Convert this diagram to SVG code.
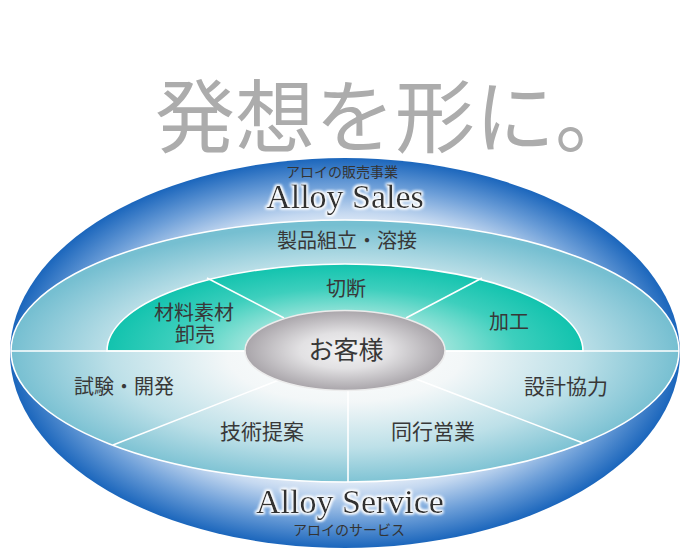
<svg xmlns="http://www.w3.org/2000/svg" width="690" height="550" viewBox="0 0 690 550">
<defs>
  <radialGradient id="gBlue" cx="0.5" cy="0.5" r="0.5">
    <stop offset="0" stop-color="#ffffff"/>
    <stop offset="0.62" stop-color="#f2f6fb"/>
    <stop offset="0.72" stop-color="#c4d8f0"/>
    <stop offset="0.86" stop-color="#6c9ed8"/>
    <stop offset="1" stop-color="#1b66bc"/>
  </radialGradient>
  <radialGradient id="gRing" cx="0.5" cy="0.52" r="0.5">
    <stop offset="0" stop-color="#ffffff"/>
    <stop offset="0.35" stop-color="#f3f7f8"/>
    <stop offset="0.7" stop-color="#bde0e8"/>
    <stop offset="1" stop-color="#76bfd1"/>
  </radialGradient>
  <radialGradient id="gTeal" gradientUnits="userSpaceOnUse" cx="345" cy="351" r="238" gradientTransform="translate(345 351) scale(1 0.366) translate(-345 -351)">
    <stop offset="0" stop-color="#e6f8f6"/>
    <stop offset="0.38" stop-color="#a6e7de"/>
    <stop offset="0.72" stop-color="#3dcfbd"/>
    <stop offset="1" stop-color="#12c3ae"/>
  </radialGradient>
  <radialGradient id="gGray" cx="0.5" cy="0.5" r="0.5">
    <stop offset="0" stop-color="#f4f4f5"/>
    <stop offset="0.45" stop-color="#e2e1e3"/>
    <stop offset="1" stop-color="#a9a5aa"/>
  </radialGradient>
  <filter id="glow" x="-10%" y="-20%" width="120%" height="140%">
    <feMorphology in="SourceAlpha" operator="dilate" radius="1" result="d"/>
    <feGaussianBlur in="d" stdDeviation="1.5" result="b"/>
    <feFlood flood-color="#ffffff"/>
    <feComposite in2="b" operator="in" result="g"/>
    <feMerge><feMergeNode in="g"/><feMergeNode in="g"/><feMergeNode in="SourceGraphic"/></feMerge>
  </filter>
  <style>
    .lbl { font-family: "Noto Sans CJK JP", "Noto Sans", sans-serif; fill: #383838; text-anchor: middle; }
    .en { font-family: "Liberation Serif", "Noto Sans CJK JP", serif; fill: #333333; text-anchor: middle; font-size: 34px; }
    .sub { font-family: "Liberation Serif", "Noto Sans CJK JP", serif; fill: #333333; text-anchor: middle; font-size: 14px; }
    .div { stroke: #ffffff; stroke-width: 1.6; fill: none; }
  </style>
</defs>

<g id="title">
  <text x="155" y="146" font-family="Noto Sans CJK JP, sans-serif" font-size="80" font-weight="400" fill="#acacac">発想を形に。</text>
</g>

<g id="outer-disc">
  <ellipse cx="345" cy="353" rx="335" ry="195" fill="url(#gBlue)"/>
</g>

<g id="ring">
  <ellipse cx="345" cy="351" rx="334" ry="131" fill="url(#gRing)" stroke="#ffffff" stroke-width="1.6"/>
</g>

<g id="teal">
  <path d="M107 351 A238 87 0 0 1 583 351 Z" fill="url(#gTeal)" stroke="#ffffff" stroke-width="1.6"/>
</g>

<g id="connectors">
  <line class="div" x1="11" y1="351" x2="679" y2="351"/>
  <line class="div" x1="207" y1="278" x2="284" y2="318"/>
  <line class="div" x1="482" y1="278" x2="406" y2="318"/>
  <line class="div" x1="113" y1="445" x2="279" y2="380"/>
  <line class="div" x1="583" y1="443" x2="416" y2="379"/>
  <line class="div" x1="348" y1="389" x2="348" y2="482"/>
</g>

<g id="customer">
  <ellipse cx="345" cy="350.5" rx="100" ry="40" fill="url(#gGray)" stroke="#ececec" stroke-width="1.5"/>
  <text class="lbl" x="346" y="359" font-size="25">お客様</text>
</g>

<g id="alloy-sales">
  <text class="sub" x="342" y="177">アロイの販売事業</text>
  <text class="en" x="345" y="208" filter="url(#glow)">Alloy Sales</text>
</g>

<g id="assembly"><text class="lbl" x="347" y="248" font-size="20">製品組立・溶接</text></g>
<g id="cutting"><text class="lbl" x="346" y="296" font-size="20">切断</text></g>
<g id="wholesale">
  <text class="lbl" x="194" y="320" font-size="20">材料素材</text>
  <text class="lbl" x="195" y="342" font-size="20">卸売</text>
</g>
<g id="processing"><text class="lbl" x="509" y="329" font-size="20">加工</text></g>
<g id="testing"><text class="lbl" x="124" y="394" font-size="20">試験・開発</text></g>
<g id="proposal"><text class="lbl" x="262" y="439" font-size="21">技術提案</text></g>
<g id="design"><text class="lbl" x="566" y="394" font-size="21">設計協力</text></g>
<g id="sales-together"><text class="lbl" x="433" y="439" font-size="21">同行営業</text></g>

<g id="alloy-service">
  <text class="en" x="350" y="513" filter="url(#glow)">Alloy Service</text>
  <text class="sub" x="349" y="535">アロイのサービス</text>
</g>
</svg>
